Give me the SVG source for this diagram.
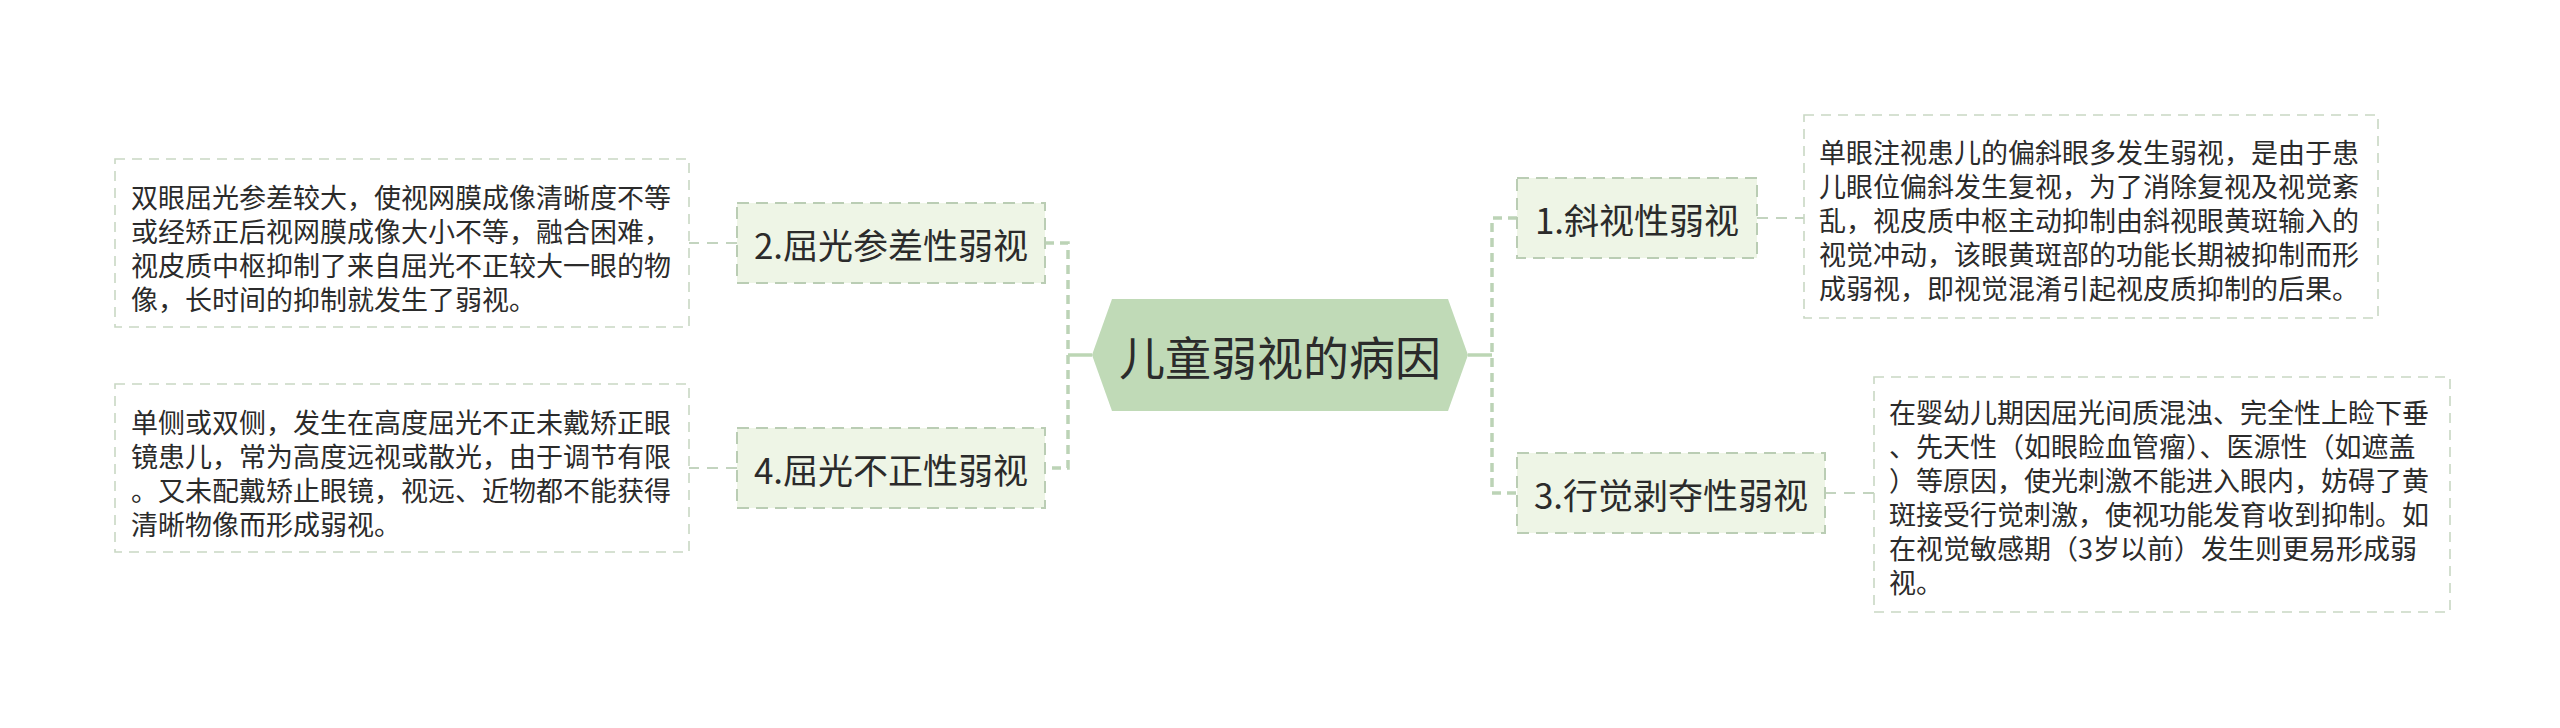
<svg xmlns="http://www.w3.org/2000/svg" width="2560" height="728" viewBox="0 0 2560 728">
<style>
text{font-family:"Noto Sans CJK SC","Noto Sans",sans-serif;fill:#2b2b2b;dominant-baseline:central}
.desc{fill:#ffffff;stroke:#c9d8c4;stroke-width:1.6;stroke-dasharray:10 7}
.dt{font-size:27px}
.topic{fill:#eef5e6;stroke:#bacdb4;stroke-width:2;stroke-dasharray:12 7}
.tt{font-size:35px;text-anchor:middle}
.link{fill:none;stroke:#c3d4bf;stroke-width:1.8;stroke-dasharray:11 8}
.bus{fill:none;stroke:#bcd3b6;stroke-width:3.5;stroke-dasharray:9 6}
.solid{fill:none;stroke:#bcd6b4;stroke-width:3.5}
</style>
<rect width="2560" height="728" fill="#ffffff"/>
<g id="connectors">
<path class="bus" d="M1045 243 H1068 V468 H1045"/>
<path class="solid" d="M1068 355 H1092"/>
<path class="solid" d="M1468 355 H1492"/>
<path class="bus" d="M1517 218 H1492 V493 H1517"/>
<path class="link" d="M737 243 H689"/>
<path class="link" d="M737 468 H689"/>
<path class="link" d="M1757 218 H1804"/>
<path class="link" d="M1825 493 H1874"/>
</g>
<g id="root">
<polygon points="1092,355 1112,299 1448,299 1468,355 1448,411 1112,411" fill="#c0dab7"/>
<text x="1280" y="355" font-size="46" text-anchor="middle">儿童弱视的病因</text>
</g>
<g id="node2">
<rect class="topic" x="737" y="203" width="308" height="80"/>
<text class="tt" x="891" y="243">2.屈光参差性弱视</text>
</g>
<g id="desc2">
<rect class="desc" x="115" y="159" width="574" height="168"/>
<text class="dt" x="131" y="196">双眼屈光参差较大，使视网膜成像清晰度不等</text>
<text class="dt" x="131" y="230">或经矫正后视网膜成像大小不等，融合困难，</text>
<text class="dt" x="131" y="264">视皮质中枢抑制了来自屈光不正较大一眼的物</text>
<text class="dt" x="131" y="298">像，长时间的抑制就发生了弱视。</text>
</g>
<g id="node4">
<rect class="topic" x="737" y="428" width="308" height="80"/>
<text class="tt" x="891" y="468">4.屈光不正性弱视</text>
</g>
<g id="desc4">
<rect class="desc" x="115" y="384" width="574" height="168"/>
<text class="dt" x="131" y="421">单侧或双侧，发生在高度屈光不正未戴矫正眼</text>
<text class="dt" x="131" y="455">镜患儿，常为高度远视或散光，由于调节有限</text>
<text class="dt" x="131" y="489">。又未配戴矫止眼镜，视远、近物都不能获得</text>
<text class="dt" x="131" y="523">清晰物像而形成弱视。</text>
</g>
<g id="node1">
<rect class="topic" x="1517" y="178" width="240" height="80"/>
<text class="tt" x="1637" y="218">1.斜视性弱视</text>
</g>
<g id="desc1">
<rect class="desc" x="1804" y="115" width="574" height="203"/>
<text class="dt" x="1819" y="151">单眼注视患儿的偏斜眼多发生弱视，是由于患</text>
<text class="dt" x="1819" y="185">儿眼位偏斜发生复视，为了消除复视及视觉紊</text>
<text class="dt" x="1819" y="219">乱，视皮质中枢主动抑制由斜视眼黄斑输入的</text>
<text class="dt" x="1819" y="253">视觉冲动，该眼黄斑部的功能长期被抑制而形</text>
<text class="dt" x="1819" y="287">成弱视，即视觉混淆引起视皮质抑制的后果。</text>
</g>
<g id="node3">
<rect class="topic" x="1517" y="453" width="308" height="80"/>
<text class="tt" x="1671" y="493">3.行觉剥夺性弱视</text>
</g>
<g id="desc3">
<rect class="desc" x="1874" y="377" width="576" height="235"/>
<text class="dt" x="1889" y="411">在婴幼儿期因屈光间质混浊、完全性上睑下垂</text>
<text class="dt" x="1889" y="445">、先天性（如眼睑血管瘤）、医源性（如遮盖</text>
<text class="dt" x="1889" y="479">）等原因，使光刺激不能进入眼内，妨碍了黄</text>
<text class="dt" x="1889" y="513">斑接受行觉刺激，使视功能发育收到抑制。如</text>
<text class="dt" x="1889" y="547">在视觉敏感期（3岁以前）发生则更易形成弱</text>
<text class="dt" x="1889" y="581">视。</text>
</g>
</svg>
